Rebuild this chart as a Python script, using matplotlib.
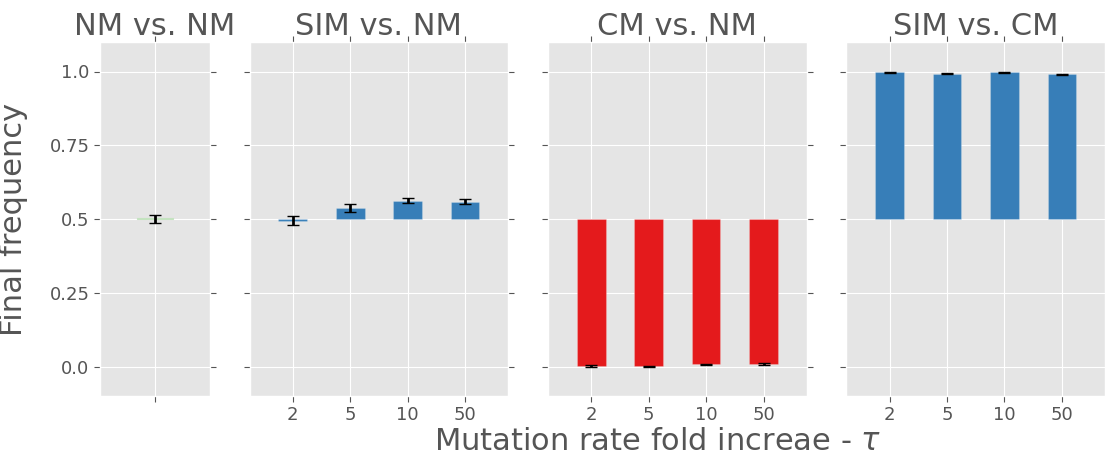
import numpy as np
from matplotlib import pyplot as plt

plt.style.use('ggplot')

## Data
titles = ['NM vs. NM', 'SIM vs. NM', 'CM vs. NM', 'SIM vs. CM']
taus = ['2', '5', '10', '50']

nm_nm = [0.5]
nm_nm_err = [0.014]
sim_nm = [0.494, 0.537, 0.562, 0.559]
sim_nm_err = [0.016, 0.013, 0.009, 0.008]
cm_nm = [0.003, 0.0005, 0.007, 0.009]
cm_nm_err = [0.003, 0.001, 0.002, 0.003]
sim_cm = [0.998, 0.993, 0.997, 0.99]
sim_cm_err = [0.002, 0.002, 0.001, 0.002]

green = '#c4e3c0'
blue = '#377eb8'
red = '#e41a1c'
grey = '#555555'

fig, axes = plt.subplots(1, 4, figsize=(11.05, 4.59), dpi=100, sharey=True,
                         gridspec_kw=dict(width_ratios=[110, 259, 259, 259]))
fig.subplots_adjust(left=100 / 1105, right=1.0, top=1 - 42 / 459,
                    bottom=1 - 396 / 459, wspace=40 / 222)


def draw(ax, vals, errs, color, labels, edge=(1, 1, 1, 0.2)):
    x = np.arange(len(vals))
    h = np.array(vals) - 0.5
    h[np.abs(h) < 2e-3] = 2e-3
    ax.bar(x, h, bottom=0.5, width=0.5, color=color,
           edgecolor=edge, linewidth=0.8, zorder=2)
    ax.errorbar(x, vals, yerr=errs, fmt='none', ecolor='black',
                elinewidth=2, capsize=4, capthick=1, zorder=3)
    ax.set_xticks(x)
    ax.set_xticklabels(labels)
    ax.tick_params(axis='both', direction='out', colors=grey, labelcolor=grey,
                   labelsize=13, top=True, right=True, length=4)
    ax.grid(True, color='white', linewidth=0.8)
    ax.set_ylim(-0.1, 1.1)


draw(axes[0], nm_nm, nm_nm_err, green, [''], edge=green)
axes[0].set_xlim(-0.75, 0.75)
draw(axes[1], sim_nm, sim_nm_err, blue, taus)
draw(axes[2], cm_nm, cm_nm_err, red, taus)
draw(axes[3], sim_cm, sim_cm_err, blue, taus)
for ax, t in zip(axes, titles):
    ax.set_title(t, fontsize=22, color=grey, pad=5)
    if ax is not axes[0]:
        ax.set_xlim(-0.75, 3.75)

axes[0].set_yticks([0.0, 0.25, 0.5, 0.75, 1.0])
axes[0].set_yticklabels(['0.0', '0.25', '0.5', '0.75', '1.0'])
axes[0].set_ylabel('Final frequency', fontsize=22, color=grey)
axes[0].yaxis.set_label_coords(-0.655, 0.5)

fig.text(658 / 1105, 1 - 442 / 459, r'Mutation rate fold increae - $\tau$',
         fontsize=22, color=grey, ha='center', va='center')

fig.savefig('out.png', dpi=100)
